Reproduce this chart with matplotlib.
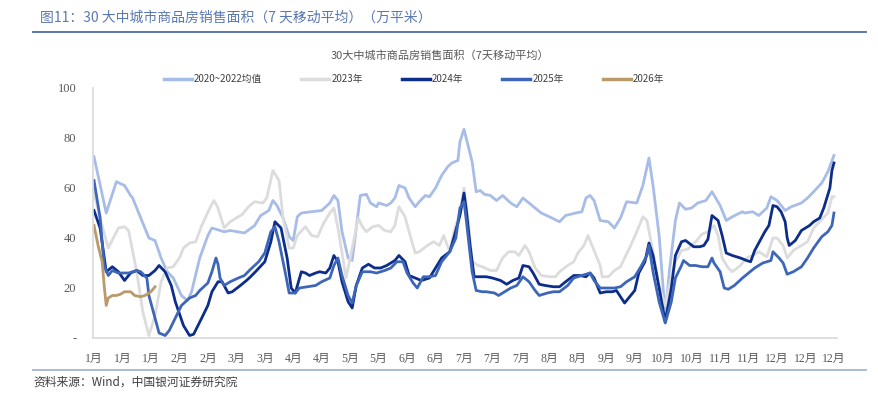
import matplotlib
matplotlib.use("Agg")
import matplotlib.pyplot as plt
from matplotlib.lines import Line2D

plt.rcParams['font.family'] = ['Noto Sans CJK SC', 'DejaVu Sans']

# ---- данные (день года -> значение, 万平米) ----
days_avg = [0, 6, 11, 15, 18, 19, 23, 27, 30, 33, 36, 39, 43, 46, 48, 52, 56, 58, 64, 67,
            74, 79, 82, 86, 88, 90, 93, 96, 98, 100, 102, 107, 112, 116, 118, 120, 122, 125, 127, 129,
            131, 134, 136, 139, 140, 144, 146, 148, 150, 153, 155, 158, 160, 163, 165, 168, 171, 174, 176, 179,
            180, 182, 184, 186, 188, 190, 192, 195, 198, 201, 205, 208, 211, 214, 217, 220, 224, 229, 232, 237,
            240, 242, 244, 246, 249, 253, 256, 259, 262, 267, 270, 273, 275, 278, 281, 283, 286, 288, 291, 294,
            297, 301, 304, 308, 311, 314, 319, 320, 324, 327, 331, 333, 336, 340, 343, 348, 351, 354, 358, 361,
            364]
vals_avg = [72.5, 50, 62.5, 61, 57, 56, 48, 40, 39, 32, 26.5, 24, 17, 15, 18.5, 32, 41, 44, 42.5, 43,
            42, 45, 49, 51, 55, 53, 48, 40.5, 39, 48.5, 50, 50.5, 51, 54, 57, 55, 42.5, 32, 31, 44,
            57, 57.5, 54, 52.5, 54, 53, 54, 56, 61, 60, 56, 52.5, 54.5, 57, 56.5, 60, 65, 68.5, 70, 71,
            78.5, 83.5, 77, 70.5, 58.5, 59, 57.5, 57, 55, 57, 54, 52.5, 56, 54, 52, 50, 48.5, 46.5, 49, 50,
            50.5, 56, 57, 55, 47, 46.5, 44, 48, 54.5, 54, 61, 72, 61, 41, 9, 26.5, 47, 54, 51.5, 52,
            54, 55, 58.5, 53, 47, 48.5, 50.5, 50, 50.5, 49, 52, 56.5, 55, 51, 52.5, 54, 56, 58.5, 62, 66.5,
            73]

days_2023 = [0, 3, 7, 12, 15, 17, 21, 24, 27, 30, 33, 36, 39, 42, 44, 47, 50, 53, 57, 59,
             61, 64, 67, 70, 73, 76, 79, 83, 85, 88, 91, 93, 96, 98, 100, 104, 107, 110, 113, 116,
             118, 120, 124, 126, 130, 132, 134, 137, 140, 143, 146, 148, 150, 153, 155, 158, 160, 164, 167, 170,
             172, 175, 177, 180, 182, 184, 186, 189, 191, 195, 198, 201, 204, 207, 209, 212, 214, 217, 220, 224,
             227, 229, 233, 236, 238, 241, 243, 245, 249, 250, 253, 256, 259, 261, 264, 267, 270, 272, 275, 278,
             281, 283, 286, 289, 292, 296, 299, 302, 305, 307, 309, 312, 314, 318, 321, 324, 327, 331, 334, 336,
             339, 341, 344, 348, 351, 354, 357, 361, 363, 364]
vals_2023 = [58, 48, 36, 44, 44.5, 43, 26.5, 10.5, 1, 9, 22.5, 28, 28.5, 32, 36, 38, 38.5, 45, 52, 55,
             52, 44, 46.5, 48, 49.5, 52.5, 54.5, 54, 56, 67, 63, 48, 36, 36, 41, 44.5, 41, 40.5, 46, 50,
             52, 44, 24, 32, 48, 44.5, 42.5, 44.5, 45, 43, 42.5, 45, 52.5, 48.5, 42.5, 34, 34.5, 37, 38.5, 37,
             41, 34.5, 42.5, 50, 60, 48, 30.5, 29, 28.5, 27, 27, 32, 34.5, 34.5, 33, 37, 34.5, 28, 25, 24.5,
             24.5, 26.5, 29, 30.5, 34, 37, 41, 37, 29, 24.5, 24.5, 27, 28.5, 32, 37, 42.5, 48.5, 47, 34.5, 21,
             13, 21, 30.5, 35, 35.5, 38.5, 41.5, 42.5, 45, 41, 32, 28, 26.5, 29, 32, 33, 34.5, 32.5, 40, 40,
             37, 32, 35, 37, 38.5, 44, 46.5, 50, 56.5, 56.5]

days_2024 = [0, 3, 6, 9, 12, 15, 18, 21, 24, 27, 30, 32, 35, 38, 40, 44, 47, 49, 53, 56,
             58, 61, 63, 66, 68, 72, 75, 77, 80, 84, 87, 89, 92, 95, 97, 99, 102, 104, 106, 109,
             111, 114, 116, 118, 120, 122, 125, 127, 129, 132, 135, 138, 141, 144, 148, 150, 153, 155, 158, 161,
             165, 168, 171, 175, 177, 180, 182, 183, 185, 187, 190, 193, 196, 200, 203, 206, 209, 211, 214, 216,
             219, 222, 226, 229, 232, 236, 239, 242, 244, 246, 249, 252, 255, 257, 259, 261, 263, 266, 268, 271,
             273, 275, 278, 281, 284, 286, 289, 291, 295, 298, 300, 302, 304, 307, 309, 311, 314, 318, 321, 323,
             325, 328, 330, 332, 334, 336, 338, 340, 341, 342, 345, 348, 352, 354, 357, 359, 362, 363, 364]
vals_2024 = [51, 44, 26.5, 28.5, 26.5, 23, 26, 27, 25, 25, 27, 29, 26.5, 21, 14.5, 5, 1, 1.5, 8, 13,
             18.5, 22.5, 22.5, 18, 18.5, 21, 23, 24.5, 27, 30.5, 38.5, 46.5, 44, 32, 20, 18, 26.5, 26, 25, 26,
             26.5, 26, 28, 33, 30.5, 22.5, 14.5, 12, 21, 28, 29.5, 28, 28, 29, 31, 33, 30.5, 25, 24, 23,
             24, 28, 32, 34.5, 40, 49, 58, 52, 37, 24.5, 24.5, 24.5, 24, 23, 21.5, 23, 24, 29, 28.5, 26,
             21.5, 21, 20.5, 20.5, 22.5, 25, 25, 24.5, 26, 24, 18, 18.5, 18.5, 19, 16.5, 14, 16, 19, 26, 30.5,
             38, 33, 20, 6.5, 20, 33, 38.5, 39, 36.5, 36.5, 37, 39.5, 49, 47, 41, 34, 33, 32, 31, 30.5,
             35, 39.5, 42.5, 45, 53, 52.5, 50.5, 46.5, 40, 37, 39, 43, 45, 46.5, 48, 52, 60, 67, 70]

days_2025 = [0, 3, 5, 7, 9, 12, 17, 21, 23, 26, 27, 30, 32, 35, 37, 40, 43, 47, 50, 52,
             56, 58, 60, 61, 62, 64, 67, 71, 74, 77, 81, 84, 87, 89, 91, 94, 96, 99, 101, 105,
             109, 112, 116, 118, 120, 122, 125, 127, 129, 132, 136, 139, 143, 146, 149, 152, 154, 157, 159, 162,
             165, 168, 171, 175, 178, 180, 182, 183, 186, 188, 191, 193, 197, 199, 202, 205, 208, 211, 214, 217,
             219, 223, 226, 229, 233, 236, 240, 242, 244, 246, 249, 253, 256, 259, 262, 266, 269, 272, 273, 275,
             278, 281, 284, 286, 289, 290, 293, 296, 299, 302, 304, 305, 308, 310, 312, 315, 319, 322, 325, 329,
             333, 334, 337, 339, 341, 344, 348, 351, 354, 358, 361, 363, 364]
vals_2025 = [63, 48, 29, 25, 27, 26, 26, 27, 26.5, 24, 17, 8, 2, 1, 3, 8, 13, 16, 17, 19,
             22, 26.5, 32, 29.5, 24, 21, 22.5, 24, 25, 27.5, 30.5, 34, 42.5, 44.5, 38.5, 26.5, 18, 18, 20, 20.5,
             21, 22.5, 24, 29, 32, 25, 17, 14, 21, 26.5, 26.5, 26, 27, 28, 30.5, 30.5, 26, 22, 20, 24.5,
             24.5, 25, 30.5, 34.5, 40, 52, 54.5, 48, 26.5, 19, 18.5, 18.5, 18, 17, 18.5, 20, 21, 24.5, 22.5, 19,
             17, 18, 18.5, 18.5, 21, 24, 25, 25.5, 26, 23, 20, 20, 20, 20.5, 22.5, 24.5, 28.5, 33, 37, 26.5,
             14.5, 6, 14.5, 24, 29, 31, 29, 29, 28.5, 28.5, 32, 30, 26.5, 20, 19.5, 21, 24, 26, 28, 30,
             31, 34.5, 32, 30, 25.5, 26.5, 28.5, 32, 36, 40.5, 42.5, 45, 50]

days_2026 = [0, 2, 4, 5, 6, 7, 9, 11, 13, 15, 18, 20, 23, 25, 28, 30]
vals_2026 = [45, 37, 30.5, 21, 13, 16, 17, 17, 17.5, 18.5, 18.5, 17, 16.5, 17, 18.5, 20.5]

series_names = ['2020~2022均值', '2023年', '2024年', '2025年', '2026年']
series_colors = ['#a7bce7', '#dcdcdc', '#0c2e8a', '#3e66b8', '#b99a6b']

tick_days = list(range(0, 365, 14))
tick_labels = ['1月', '1月', '1月', '2月', '2月', '3月', '3月', '4月', '4月', '5月', '5月', '6月', '6月', '7月',
               '7月', '7月', '8月', '8月', '9月', '9月', '10月', '10月', '11月', '11月', '12月', '12月', '12月']

# ---- рисунок ----
fig = plt.figure(figsize=(8.79, 3.93), dpi=100)
ax = fig.add_axes([93 / 879, 1 - 338 / 393, 744 / 879, 250 / 393])

all_days = [days_avg, days_2023, days_2024, days_2025, days_2026]
all_vals = [vals_avg, vals_2023, vals_2024, vals_2025, vals_2026]
for d, v, c in zip(all_days, all_vals, series_colors):
    ax.plot(d, v, color=c, linewidth=2.0, solid_joinstyle='round')

ax.set_xlim(-0.5, 365.5)
ax.set_ylim(0, 100)
ax.set_xticks(tick_days)
ax.set_xticklabels(tick_labels, family=['Liberation Serif', 'Noto Sans CJK SC'], fontsize=8.5, color='#595959')
ax.set_yticks([0, 20, 40, 60, 80, 100])
ax.set_yticklabels(['-', '20', '40', '60', '80', '100'], family='Liberation Serif', fontsize=9, color='#595959')
ax.tick_params(axis='both', length=0)
ax.tick_params(axis='x', pad=11)
ax.tick_params(axis='y', pad=12)
for s in ['top', 'right']:
    ax.spines[s].set_visible(False)
for s in ['left', 'bottom']:
    ax.spines[s].set_color('#d9d9d9')
    ax.spines[s].set_linewidth(1.2)

# легенда
handles = [Line2D([0], [0], color=c, linewidth=2.5) for c in series_colors]
fig.legend(handles, series_names, loc='center', bbox_to_anchor=(414 / 879, 1 - 79 / 393), ncol=5,
           frameon=False, fontsize=7, handlelength=2.9, handletextpad=0.2, columnspacing=4.0,
           labelcolor='#404040')

fig.text(440 / 879, 1 - 56 / 393, '30大中城市商品房销售面积（7天移动平均）', ha='center', va='center',
         fontsize=8, color='#595959')

# заголовок и подпись
fig.text(40 / 879, 1 - 18 / 393, '图11：30 大中城市商品房销售面积（7 天移动平均）（万平米）', ha='left', va='center',
         fontsize=10, color='#5a78b2')
fig.add_artist(Line2D([33 / 879, 866 / 879], [1 - 32 / 393, 1 - 32 / 393], color='#4a6bab', linewidth=1.3))
fig.add_artist(Line2D([33 / 879, 866 / 879], [1 - 370 / 393, 1 - 370 / 393], color='#a3b4d6', linewidth=1.3))
fig.text(33 / 879, 1 - 382 / 393, '资料来源：Wind，中国银河证券研究院', ha='left', va='center',
         fontsize=8.5, color='#404040', style='italic')

fig.savefig('out.png', dpi=100)
